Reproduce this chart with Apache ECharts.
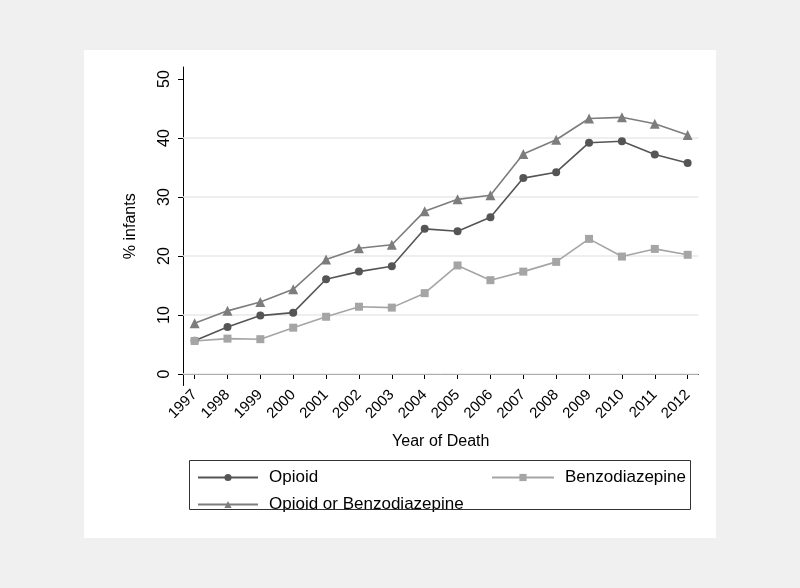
<!DOCTYPE html>
<html>
<head>
<meta charset="utf-8">
<script src="https://cdn.jsdelivr.net/npm/echarts@6/dist/echarts.min.js"></script>
<style>
html,body{margin:0;padding:0;background:#f0f0f0;}
#chart{width:800px;height:588px;}
</style>
</head>
<body>
<div id="chart"></div>
<script>
const years = [1997,1998,1999,2000,2001,2002,2003,2004,2005,2006,2007,2008,2009,2010,2011,2012];
const opioid = [5.65,7.95,9.9,10.4,16.05,17.35,18.25,24.6,24.2,26.55,33.2,34.2,39.2,39.45,37.2,35.75];
const benzo = [5.6,6.0,5.9,7.85,9.7,11.4,11.25,13.7,18.4,15.9,17.35,19.0,22.9,19.9,21.2,20.2];
const either = [8.6,10.7,12.2,14.35,19.4,21.3,21.9,27.6,29.6,30.3,37.3,39.7,43.3,43.5,42.4,40.5];
const yTicks = [0,10,20,30,40,50];
const gridValues = [0,10,20,30,40];
const names = ['Opioid','Benzodiazepine','Opioid or Benzodiazepine'];

const FONT = '"Liberation Sans", Arial, sans-serif';
const chart = echarts.init(document.getElementById('chart'));
const pair = arr => years.map((y,i)=>[y,arr[i]]);
const legendText = {fontFamily:FONT,fontSize:17,color:'#000',padding:[0,0,0,6]};

chart.setOption({
  backgroundColor: '#f0f0f0',
  animation: false,
  graphic: [
    {type:'rect', shape:{x:84,y:50,width:632,height:488}, style:{fill:'#ffffff'}, z:-10},
    {type:'rect', shape:{x:189.5,y:460.5,width:501,height:49}, style:{fill:'none',stroke:'#333333',lineWidth:1}, z:10}
  ],
  grid: {left:183, top:67, width:515.5, height:318.5, containLabel:false},
  xAxis: {
    type:'value', min:1996.647, max:2012.33,
    name:'Year of Death', nameLocation:'middle', nameGap:48,
    nameTextStyle:{fontFamily:FONT,fontSize:16,color:'#000'},
    axisLine:{show:true,lineStyle:{color:'#000',width:1}},
    axisTick:{show:true,length:5,customValues:years,lineStyle:{color:'#000'}},
    axisLabel:{customValues:years,rotate:45,margin:7,fontFamily:FONT,fontSize:15,color:'#000',formatter:v=>String(v)},
    splitLine:{show:false}
  },
  yAxis: {
    type:'value', min:-1.95, max:52.03,
    name:'% infants', nameLocation:'middle', nameGap:44, nameRotate:90,
    nameTextStyle:{fontFamily:FONT,fontSize:16,color:'#000'},
    axisLine:{show:true,lineStyle:{color:'#000',width:1}},
    axisTick:{show:true,length:5,customValues:yTicks,lineStyle:{color:'#000'}},
    axisLabel:{customValues:yTicks,rotate:90,margin:10,fontFamily:FONT,fontSize:16,color:'#000'},
    splitLine:{show:false}
  },
  legend: [
    {data:[names[0]], left:197, top:469, padding:0, itemWidth:60, itemHeight:9, itemGap:0, textStyle:legendText},
    {data:[names[2]], left:197, top:496, padding:0, itemWidth:60, itemHeight:9, itemGap:0, textStyle:legendText},
    {data:[names[1]], left:491, top:469, padding:0, itemWidth:62, itemHeight:9, itemGap:0, textStyle:legendText}
  ],
  series: [
    {type:'line', name:'grid', data:[], silent:true, z:1,
     markLine:{silent:true, z:1, symbol:'none', label:{show:false}, animation:false,
       lineStyle:{color:'#e8e8e8',width:1.5,type:'solid'},
       data: gridValues.map(v=>({yAxis:v}))}},
    {type:'line', name:names[0], data:pair(opioid), symbol:'circle', symbolSize:8, z:3,
     lineStyle:{color:'#555555',width:1.6}, itemStyle:{color:'#555555'}},
    {type:'line', name:names[1], data:pair(benzo), symbol:'rect', symbolSize:8, z:3,
     lineStyle:{color:'#a5a5a5',width:1.6}, itemStyle:{color:'#a5a5a5'}},
    {type:'line', name:names[2], data:pair(either), symbol:'triangle', symbolSize:10, z:3,
     lineStyle:{color:'#7d7d7d',width:1.6}, itemStyle:{color:'#7d7d7d'}}
  ]
});
</script>
</body>
</html>
